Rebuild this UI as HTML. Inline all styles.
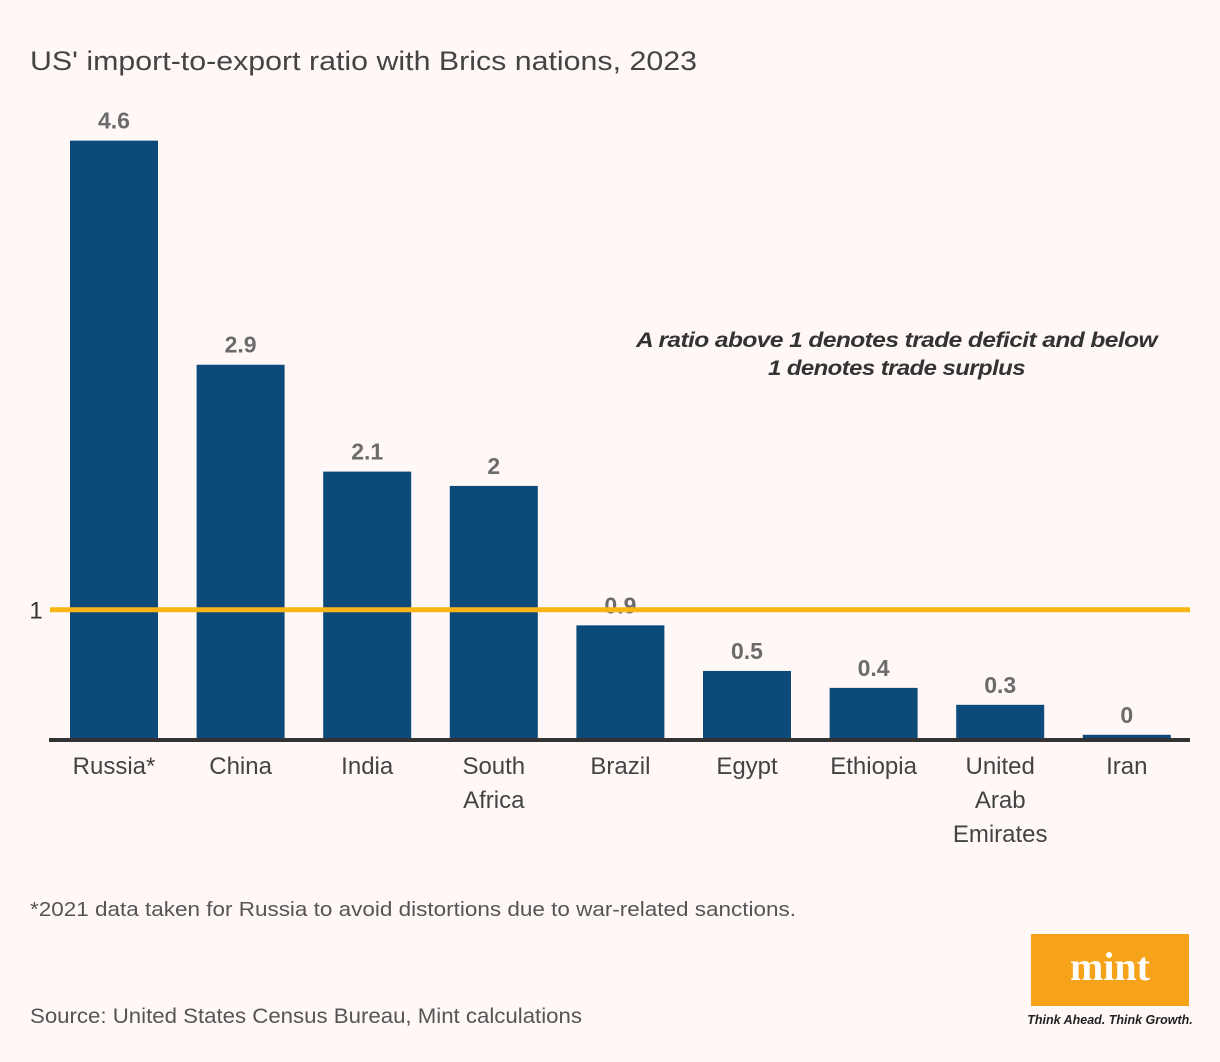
<!DOCTYPE html>
<html><head><meta charset="utf-8"><style>
body{margin:0;background:#fff8f7;}
svg{display:block;font-family:"Liberation Sans",sans-serif;}
</style></head><body>
<svg width="1220" height="1062" viewBox="0 0 1220 1062">
<rect width="1220" height="1062" fill="#fff8f7"/>
<text x="30" y="70" font-size="27" fill="#444" textLength="667" lengthAdjust="spacingAndGlyphs">US' import-to-export ratio with Brics nations, 2023</text>
<g id="bars"></g>
<line x1="49" x2="1190" y1="740" y2="740" stroke="#333" stroke-width="4"/>
<line id="ref" x1="50" x2="1190" stroke="#f9b515" stroke-width="5"/>
<text id="reflabel" x="36" font-size="24" fill="#333" text-anchor="middle">1</text>
<text font-size="21" font-weight="bold" font-style="italic" fill="#333" letter-spacing="-0.5"><tspan x="636" y="347" textLength="521" lengthAdjust="spacingAndGlyphs">A ratio above 1 denotes trade deficit and below</tspan><tspan x="768" y="375" textLength="257" lengthAdjust="spacingAndGlyphs">1 denotes trade surplus</tspan></text>
<text x="30" y="916" font-size="20" fill="#555" textLength="766" lengthAdjust="spacingAndGlyphs">*2021 data taken for Russia to avoid distortions due to war-related sanctions.</text>
<text x="30" y="1023" font-size="21" fill="#555" textLength="552" lengthAdjust="spacingAndGlyphs">Source: United States Census Bureau, Mint calculations</text>
<rect x="1031" y="934" width="158" height="72" fill="#f7a21b"/>
<text x="1110" y="980" font-size="40" font-weight="bold" font-family="Liberation Serif,serif" fill="#fff" text-anchor="middle">mint</text>
<text x="1110" y="1024" font-size="12.5" font-weight="bold" font-style="italic" fill="#222" text-anchor="middle">Think Ahead. Think Growth.</text>
</svg>
<script>
const categories=[["Russia*"],["China"],["India"],["South","Africa"],["Brazil"],["Egypt"],["Ethiopia"],["United","Arab","Emirates"],["Iran"]];
const values=[4.6,2.88,2.06,1.95,0.88,0.53,0.4,0.27,0.04];
const valueLabels=["4.6","2.9","2.1","2","0.9","0.5","0.4","0.3","0"];
const refValue=1;
const base=740,scale=130.3,x0=70,step=126.6,bw=88;
const y=v=>base-v*scale;
const xs=i=>x0+i*step;
const NS="http://www.w3.org/2000/svg";
const g=document.getElementById('bars');
values.forEach((v,i)=>{
 const r=document.createElementNS(NS,'rect');
 r.setAttribute('x',xs(i));r.setAttribute('y',y(v));r.setAttribute('width',bw);r.setAttribute('height',base-y(v));r.setAttribute('fill','#0c4a7a');
 
 
 g.appendChild(r);
 const t=document.createElementNS(NS,'text');
 t.setAttribute('x',xs(i)+bw/2);t.setAttribute('y',y(v)-12);t.setAttribute('text-anchor','middle');t.setAttribute('font-size','23');t.setAttribute('font-weight','bold');t.setAttribute('fill','#6b6b6b');
 t.textContent=valueLabels[i];
 
 
 g.appendChild(t);
 const c=document.createElementNS(NS,'text');
 c.setAttribute('text-anchor','middle');c.setAttribute('font-size','24');c.setAttribute('fill','#444');
 categories[i].forEach((s,j)=>{const ts=document.createElementNS(NS,'tspan');ts.setAttribute('x',xs(i)+bw/2);ts.setAttribute('y',774+j*34);ts.textContent=s;c.appendChild(ts);});
 
 
 g.appendChild(c);
});
const ref=document.getElementById('ref');ref.setAttribute('y1',y(refValue));ref.setAttribute('y2',y(refValue));
document.getElementById('reflabel').setAttribute('y',y(refValue)+9);
</script>
</body></html>
